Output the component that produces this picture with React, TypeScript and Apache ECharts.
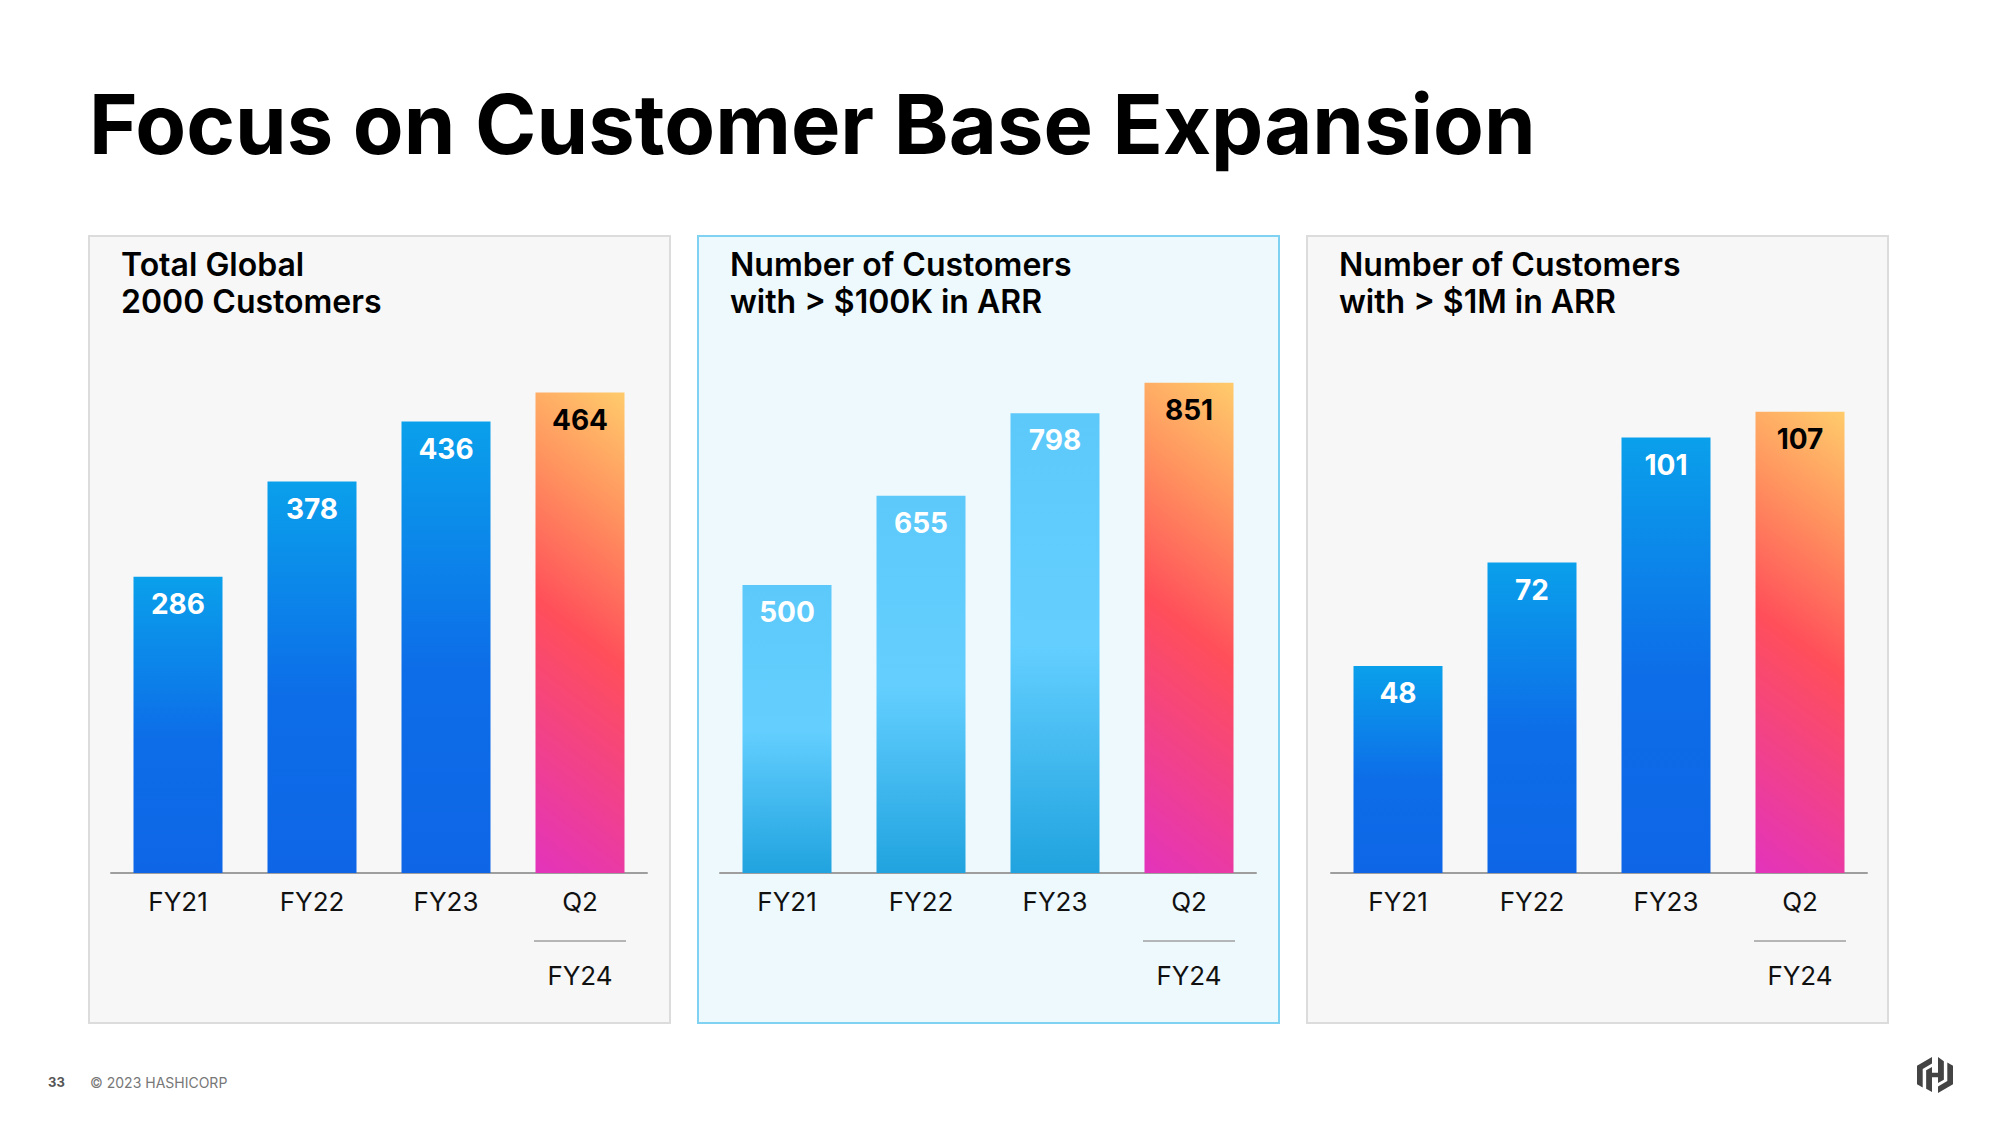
import React, { useEffect, useRef } from "react";
import * as echarts from "echarts";

const categories = ["FY21", "FY22", "FY23", "Q2"];
const subLabel = "FY24";
const pageTitle = "Focus on Customer Base Expansion";
const panelTitles = [
  "Total Global\n2000 Customers",
  "Number of Customers\nwith > $100K in ARR",
  "Number of Customers\nwith > $1M in ARR",
];
const totalGlobal2000 = [286, 378, 436, 464];
const over100K = [500, 655, 798, 851];
const over1M = [48, 72, 101, 107];
const axisMax = [600, 1000, 150];
const footerPage = "33";
const footerCopy = "© 2023 HASHICORP";

const FONT = "Inter, 'Open Sans', sans-serif";

const LOGO_D =
  "M10 0 L0 5.8 V18.2 L3.8 20.4 V8 L10 4.4 Z " +
  "M14 0 V10.5 H10 V6.6 L6.1 8.8 V21.2 L10 23.4 V13.5 H14 V17.4 L17.9 15.2 V2.8 Z " +
  "M20.2 3.6 V16 L14 19.6 V24 L24 18.2 V5.8 Z";

const blueGrad = () =>
  new echarts.graphic.LinearGradient(0, 0, 0, 1, [
    { offset: 0, color: "#0AA0EB" },
    { offset: 0.55, color: "#0D6DE8" },
    { offset: 1, color: "#0E66E6" },
  ]);
const lightGrad = () =>
  new echarts.graphic.LinearGradient(0, 0, 0, 1, [
    { offset: 0, color: "#5CC9FA" },
    { offset: 0.5, color: "#64CFFF" },
    { offset: 1, color: "#20A3DF" },
  ]);
const warmGrad = () =>
  new echarts.graphic.LinearGradient(1, 0, 0.84, 1.12, [
    { offset: 0, color: "#FFCB6B" },
    { offset: 0.25, color: "#FF8F5E" },
    { offset: 0.5, color: "#FF4F5A" },
    { offset: 1, color: "#E333BC" },
  ]);

export default function App() {
  const ref = useRef<HTMLDivElement>(null);
  useEffect(() => {
    if (!ref.current) return;
    try {
      echarts.graphic.registerShape("hashiLogo", echarts.graphic.extendPath(LOGO_D, {}));
    } catch (e) {}
    const chart = echarts.init(ref.current, undefined, { renderer: "svg" });

    const panelX = [89, 698, 1307];
    const axisLeft = [111, 720, 1331];
    const scales = [1.0355, 0.576, 4.311];
    const baseY = 873;
    const seriesVals = [totalGlobal2000, over100K, over1M];
    const baseGrads = [blueGrad, lightGrad, blueGrad];

    const grids = axisLeft.map((l, i) => {
      const h = axisMax[i] * scales[i];
      return { left: l, width: 536, top: baseY - h, height: h };
    });

    const xAxis = axisLeft.map((_, i) => ({
      type: "category",
      gridIndex: i,
      data: categories,
      axisLine: { lineStyle: { color: "#9E9E9E", width: 2 } },
      axisTick: { show: false },
      axisLabel: {
        margin: 10,
        interval: 0,
        formatter: (v: string) =>
          v === categories[categories.length - 1]
            ? `{a|${v}}\n{hr|}\n{b|${subLabel}}`
            : `{a|${v}}`,
        rich: {
          a: { fontSize: 26, lineHeight: 36, color: "#111", fontFamily: FONT },
          hr: { width: 92, height: 0, lineHeight: 44, borderColor: "#A0A0A0", borderWidth: 1 },
          b: { fontSize: 26, lineHeight: 25, color: "#111", fontFamily: FONT },
        },
      },
    }));
    const yAxis = axisLeft.map((_, i) => ({
      type: "value",
      gridIndex: i,
      min: 0,
      max: axisMax[i],
      show: false,
      splitLine: { show: false },
    }));

    const series = seriesVals.map((vals, i) => ({
      type: "bar",
      xAxisIndex: i,
      yAxisIndex: i,
      barWidth: 89,
      data: vals.map((v, j) => {
        const last = j === vals.length - 1;
        return {
          value: v,
          itemStyle: { color: last ? warmGrad() : baseGrads[i]() },
          label: { color: last ? "#000" : "#fff" },
        };
      }),
      label: {
        show: true,
        position: "insideTop",
        distance: 13,
        fontSize: 28,
        fontWeight: "bold",
        fontFamily: FONT,
        lineHeight: 28,
      },
    }));

    const panels = panelX.map((x, i) => ({
      type: "rect",
      z: -10,
      shape: { x, y: 236, width: 581, height: 787 },
      style: {
        fill: i === 1 ? "#EEF9FD" : "#F7F7F7",
        stroke: i === 1 ? "#80D2F2" : "#DCDCDC",
        lineWidth: 2,
      },
    }));
    const titles = panelX.map((x, i) => ({
      type: "text",
      x: x + 32,
      y: 283,
      style: {
        text: panelTitles[i],
        fontSize: 32,
        fontWeight: 600,
        fontFamily: FONT,
        lineHeight: 37,
        fill: "#000",
        verticalAlign: "middle",
        align: "left",
      },
    }));

    chart.setOption({
      animation: false,
      backgroundColor: "#ffffff",
      grid: grids,
      xAxis,
      yAxis,
      series,
      graphic: [
        ...panels,
        ...titles,
        {
          type: "text",
          x: 89,
          y: 124,
          style: {
            text: pageTitle,
            fontSize: 83,
            fontWeight: 700,
            fontFamily: FONT,
            fill: "#000",
            verticalAlign: "middle",
          },
        },
        {
          type: "text",
          x: 48,
          y: 1082,
          style: {
            text: footerPage,
            fontSize: 13,
            fontWeight: "bold",
            fontFamily: FONT,
            fill: "#555",
            verticalAlign: "middle",
          },
        },
        {
          type: "text",
          x: 90,
          y: 1082,
          style: {
            text: footerCopy,
            fontSize: 14,
            fontFamily: FONT,
            fill: "#777",
            verticalAlign: "middle",
          },
        },
        {
          type: "hashiLogo",
          x: 1917,
          y: 1057,
          scaleX: 1.5,
          scaleY: 1.5,
          style: { fill: "#444" },
        },
      ],
    });
    return () => chart.dispose();
  }, []);
  return (
    <div
      ref={ref}
      style={{ position: "fixed", left: 0, top: 0, width: 2000, height: 1125 }}
    />
  );
}
